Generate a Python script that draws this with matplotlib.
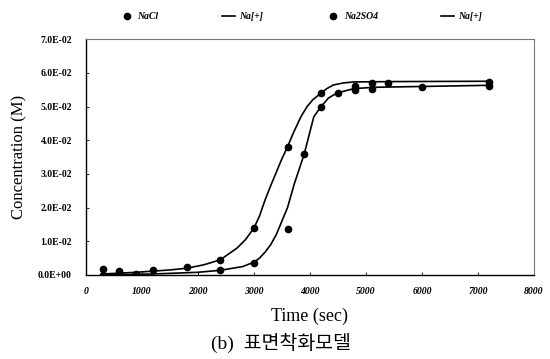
import matplotlib.pyplot as plt
from matplotlib.ticker import FuncFormatter

# measured points
nacl_t = [300, 600, 1200, 1800, 2400, 3000, 3600, 4200, 4800, 5100, 5400, 7200]
nacl_c = [0.0017, 0.0012, 0.0015, 0.0024, 0.0045, 0.0139, 0.038, 0.054, 0.056, 0.057, 0.057, 0.0573]

na2so4_t = [300, 600, 900, 2400, 3000, 3600, 3900, 4200, 4500, 4800, 5100, 6000, 7200]
na2so4_c = [0.0, 0.0003, 0.0003, 0.0015, 0.0035, 0.0136, 0.036, 0.050, 0.054, 0.055, 0.0552, 0.0558, 0.0561]

# model curves
model1_t = [300, 900, 1500, 1800, 2100, 2400, 2700, 2850, 3000, 3100, 3200, 3300, 3400, 3500, 3600, 3700,
            3840, 3950, 4050, 4200, 4300, 4420, 4600, 4780, 5500, 7200]
model1_c = [0.0003, 0.0008, 0.0015, 0.0020, 0.0030, 0.0045, 0.0080, 0.0105, 0.0139, 0.0175, 0.0223, 0.0265,
            0.0305, 0.0345, 0.038, 0.042, 0.047, 0.050, 0.052, 0.054, 0.0553, 0.0564, 0.0570, 0.0573, 0.0574, 0.0575]

model2_t = [300, 1200, 2000, 2400, 2800, 3000, 3100, 3200, 3300, 3400, 3500, 3600, 3720, 3800, 3900, 4000,
            4070, 4200, 4330, 4480, 4780, 5130, 7200]
model2_c = [0.0, 0.0003, 0.0008, 0.0014, 0.0025, 0.0038, 0.0050, 0.0068, 0.0090, 0.0120, 0.016, 0.020,
            0.027, 0.031, 0.036, 0.0425, 0.047, 0.050, 0.0525, 0.054, 0.0553, 0.0557, 0.0563]

xticks = [0, 1000, 2000, 3000, 4000, 5000, 6000, 7000, 8000]
yticks = [0, 0.01, 0.02, 0.03, 0.04, 0.05, 0.06, 0.07]

serif = 'Liberation Serif'

fig = plt.figure(figsize=(5.5, 3.59), dpi=100)
ax = fig.add_axes([0.156, 0.234, 0.815, 0.657])

ax.plot(nacl_t, nacl_c, 'o', color='black', markersize=4.5, label='NaCl')
ax.plot(model1_t, model1_c, '-', color='black', linewidth=1.2, label='Na[+]')
ax.plot(na2so4_t, na2so4_c, 'o', color='black', markersize=4.5, label='Na2SO4')
ax.plot(model2_t, model2_c, '-', color='black', linewidth=1.2, label='Na[+]')

ax.set_xlim(0, 8000)
ax.set_ylim(0, 0.07)
ax.set_xticks(xticks)
ax.set_yticks(yticks)
ax.yaxis.set_major_formatter(FuncFormatter(lambda v, p: '%.1E' % v))

for lbl in ax.get_xticklabels():
    lbl.set_fontfamily(serif)
    lbl.set_fontweight('bold')
    lbl.set_fontstyle('italic')
    lbl.set_fontsize(7)
for lbl in ax.get_yticklabels():
    lbl.set_fontfamily(serif)
    lbl.set_fontweight('bold')
    lbl.set_fontsize(7)

ax.tick_params(axis='both', direction='in', length=2, width=0.6, pad=9)
ax.tick_params(axis='y', pad=10)

for side in ['top', 'right']:
    ax.spines[side].set_linestyle((0, (1, 1)))
    ax.spines[side].set_color('#777777')
    ax.spines[side].set_linewidth(0.8)
for side in ['left', 'bottom']:
    ax.spines[side].set_color('black')
    ax.spines[side].set_linewidth(1.0)

ax.set_xlabel('Time (sec)', fontfamily=serif, fontsize=13, labelpad=8)
ax.set_ylabel('Concentration (M)', fontfamily=serif, fontsize=12, labelpad=8)

leg = ax.legend(loc='lower center', bbox_to_anchor=(0.48, 1.06), ncol=4, frameon=False,
                prop={'family': serif, 'weight': 'bold', 'style': 'italic', 'size': 7},
                handlelength=1.4, columnspacing=6.5, handletextpad=0.4, borderaxespad=0)

fig.text(0.51, 0.045, '(b)  표면착화모델', ha='center', va='center', fontsize=14,
         family=[serif, 'Noto Sans CJK KR'])

fig.savefig('out.png', dpi=100)
